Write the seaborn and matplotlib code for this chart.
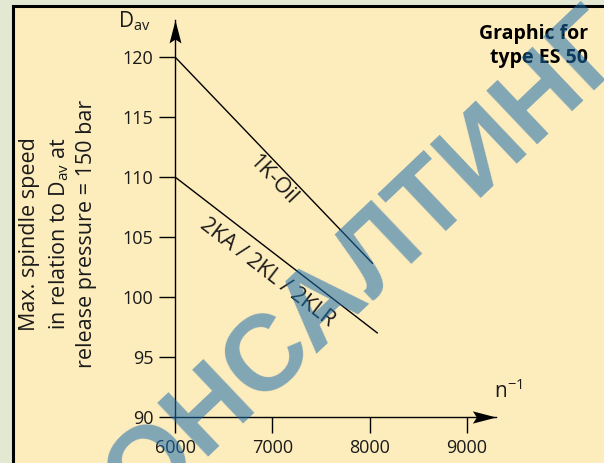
import math
import matplotlib
matplotlib.use("Agg")
import matplotlib.pyplot as plt
import pandas as pd
import seaborn as sns
from matplotlib.path import Path
from matplotlib.patches import Rectangle

# Speed range (n^-1) and the maximum D_av for each clamping variant
speed = [6000, 8030]
oil_1k = [120.0, 102.8]
speed_2k = [6000, 8080]
ka_kl_klr = [110.0, 97.0]

series_names = ["1K-Oil", "2KA / 2KL / 2KLR"]
x_ticks = [6000, 7000, 8000, 9000]
y_ticks = [90, 95, 100, 105, 110, 115, 120]

df = pd.concat([
    pd.DataFrame({"n": speed, "Dav": oil_1k, "variant": series_names[0]}),
    pd.DataFrame({"n": speed_2k, "Dav": ka_kl_klr, "variant": series_names[1]}),
])

sns.set_theme(style="ticks")
plt.rcParams["font.family"] = ["Open Sans", "DejaVu Sans"]
plt.rcParams["mathtext.default"] = "regular"

W, H = 604, 463
TEXT = "#1a1a1a"
fig = plt.figure(figsize=(W / 100, H / 100), dpi=100)
fig.patch.set_facecolor("#e2e8d2")

# cream panel with black frame
panel = Rectangle((12.5 / W, -0.1), 1.2, 1.1 - 5.5 / H, transform=fig.transFigure,
                  facecolor="#fdecbc", edgecolor="black", linewidth=2.2, zorder=-1)
fig.patches.append(panel)

ax = fig.add_axes([175 / W, 1 - 417 / H, (496 - 175) / W, (417 - 20) / H])
ax.set_facecolor("none")
ax.set_zorder(1)

sns.lineplot(data=df, x="n", y="Dav", hue="variant", palette=["black", "black"],
             legend=False, linewidth=1.0, ax=ax)

x_max = 9299
y_max = 123.08
ax.set_xlim(6000, x_max)
ax.set_ylim(90, y_max)
ax.set_xticks(x_ticks)
ax.set_yticks(y_ticks)
ax.set_xlabel("")
ax.set_ylabel("")
sns.despine(ax=ax)
for s in ("left", "bottom"):
    ax.spines[s].set_linewidth(1.0)
    ax.spines[s].set_color("black")
ax.tick_params(axis="both", direction="out", length=11.5, width=1.0, colors="black",
               labelsize=13)
ax.tick_params(axis="y", pad=4)
ax.tick_params(axis="x", pad=4.5)
for lbl in ax.get_xticklabels() + ax.get_yticklabels():
    lbl.set_color(TEXT)

# arrowheads on the axis ends
right_head = Path([(0, 0), (-1, 0.26), (-0.83, 0), (-1, -0.26), (0, 0)],
                  [Path.MOVETO, Path.LINETO, Path.LINETO, Path.LINETO, Path.CLOSEPOLY])
up_head = Path([(0, 0), (0.26, -1), (0, -0.83), (-0.26, -1), (0, 0)],
               [Path.MOVETO, Path.LINETO, Path.LINETO, Path.LINETO, Path.CLOSEPOLY])
ax.plot([x_max], [90], marker=right_head, markersize=34, color="black",
        markeredgewidth=0, clip_on=False, zorder=5)
ax.plot([6000], [y_max], marker=up_head, markersize=33, color="black",
        markeredgewidth=0, clip_on=False, zorder=5)

# curve labels along the lines
slope_1k = (oil_1k[1] - oil_1k[0]) / (speed[1] - speed[0])
slope_2k = (ka_kl_klr[1] - ka_kl_klr[0]) / (speed_2k[1] - speed_2k[0])
ax.text(7007, 109.75, series_names[0], rotation=math.degrees(math.atan(slope_1k)),
        transform_rotates_text=True, rotation_mode="anchor", ha="center", va="center",
        fontsize=15.5, color=TEXT)
ax.text(6946, 102.0, series_names[1], rotation=math.degrees(math.atan(slope_2k)),
        transform_rotates_text=True, rotation_mode="anchor", ha="center", va="center",
        fontsize=15.5, color=TEXT)

# axis titles
fig.text(118 / W, 1 - 27 / H, r"D$_{av}$", fontsize=15, ha="left", va="baseline", color=TEXT)
fig.text(494 / W, 1 - 398 / H, r"n$^{-1}$", fontsize=15, ha="left", va="baseline", color=TEXT)

ylab_lines = ["Max. spindle speed", r"in relation to D$_{av}$ at", "release pressure = 150 bar"]
for xpix, line in zip([30, 59, 87], ylab_lines):
    fig.text(xpix / W, 1 - 234 / H, line, rotation=90, ha="center", va="center",
             fontsize=15.5, color=TEXT)

fig.text(588 / W, 1 - 24 / H, "Graphic for\ntype ES 50", ha="right", va="top",
         fontsize=14, fontweight="bold", linespacing=1.25, color="black")

# diagonal watermark
fig.text(343 / W, 1 - 283 / H, "КОНСАЛТИНГ", rotation=43.5, ha="center", va="center",
         rotation_mode="anchor", fontsize=78, family="Liberation Sans", fontweight="bold",
         color="#1a6cae", alpha=0.55, zorder=10)

fig.savefig("out.png", dpi=100, facecolor=fig.get_facecolor())
